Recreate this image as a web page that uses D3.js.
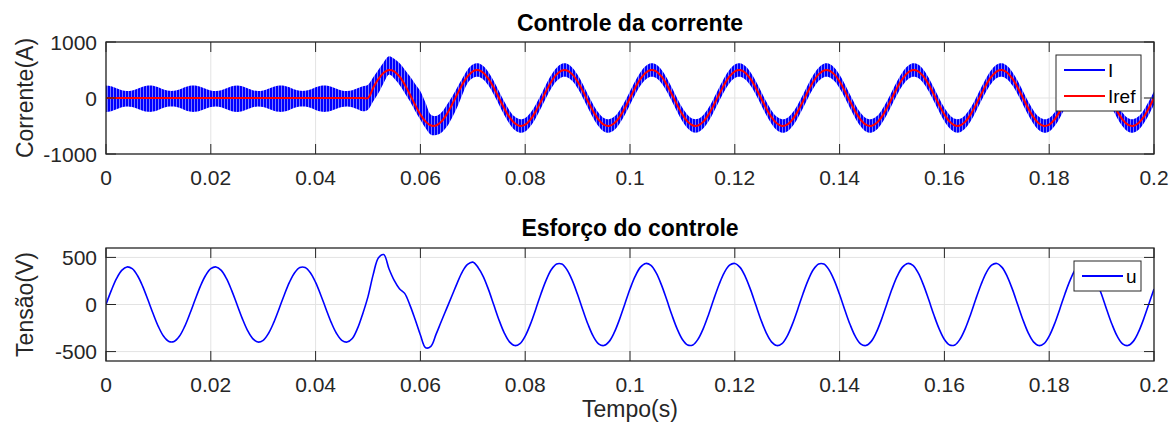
<!DOCTYPE html>
<html>
<head>
<meta charset="utf-8">
<script src="https://d3js.org/d3.v7.min.js"></script>
<style>
  body { margin: 0; background: #fff; }
  svg text { font-family: "Liberation Sans", Arial, sans-serif; fill: #262626; }
</style>
</head>
<body>
<div id="chart"></div>
<script>
// samples every 1 ms, t = 0 .. 0.2 s
let sampleStep = 0.001;

let timeTicks = [0, 0.02, 0.04, 0.06, 0.08, 0.1, 0.12, 0.14, 0.16, 0.18, 0.2];
let currentTicks = [-1000, 0, 1000];
let voltageTicks = [-500, 0, 500];

// current I : ripple band (upper / lower envelope)
let iUpper = [
  225,210,175,140,125,135,165,202,222,218,190,150,128,128,150,190,218,222,202,165,135,125,140,175,210,
  225,210,175,140,125,135,165,202,222,218,190,150,128,128,150,190,218,222,202,165,135,125,140,175,210,
  238,370,506,640,744,700,625,510,387,250,119,-90,-298,-320,-260,-130,20,185,350,
  505,596,619,572,462,304,120,-64,-222,-332,-379,-356,-265,-121,57,244,414,542,611,611,542,414,244,57,-121,-265,-356,-379,-332,-222,-64,
  120,304,462,572,619,596,505,361,183,-4,-174,-302,-371,-371,-302,-174,-4,183,361,505,596,619,572,462,304,
  120,-64,-222,-332,-379,-356,-265,-121,57,244,414,542,611,611,542,414,244,57,-121,-265,-356,-379,-332,-222,-64,
  120,304,462,572,619,596,505,361,183,-4,-174,-302,-371,-371,-302,-174,-4,183,361,505,596,619,572,462,304,
  120,-64,-222,-332,-379,-356,-265,-121,57,244,414,542,611,611,542,414,244,57,-121,-265,-356,-379,-332,-222,-64,
  120
];
let iLower = [
  -250,-235,-200,-165,-150,-160,-190,-227,-247,-243,-215,-175,-153,-153,-175,-215,-243,-247,-227,-190,-160,-150,-165,-200,-235,
  -250,-235,-200,-165,-150,-160,-190,-227,-247,-243,-215,-175,-153,-153,-175,-215,-243,-247,-227,-190,-160,-150,-165,-200,-235,
  -208,-60,89,270,417,350,238,90,-60,-230,-387,-540,-655,-660,-620,-520,-360,-170,60,
  265,356,379,332,222,64,-120,-304,-462,-572,-619,-596,-505,-361,-183,4,174,302,371,371,302,174,4,-183,-361,-505,-596,-619,-572,-462,-304,
  -120,64,222,332,379,356,265,121,-57,-244,-414,-542,-611,-611,-542,-414,-244,-57,121,265,356,379,332,222,64,
  -120,-304,-462,-572,-619,-596,-505,-361,-183,4,174,302,371,371,302,174,4,-183,-361,-505,-596,-619,-572,-462,-304,
  -120,64,222,332,379,356,265,121,-57,-244,-414,-542,-611,-611,-542,-414,-244,-57,121,265,356,379,332,222,64,
  -120,-304,-462,-572,-619,-596,-505,-361,-183,4,174,302,371,371,302,174,4,-183,-361,-505,-596,-619,-572,-462,-304,
  -120
];

// reference current Iref
let iRef = [
  0,0,0,0,0,0,0,0,0,0,0,0,0,0,0,0,0,0,0,0,0,0,0,0,0,
  0,0,0,0,0,0,0,0,0,0,0,0,0,0,0,0,0,0,0,0,0,0,0,0,0,
  0,184,342,452,499,476,385,241,63,-124,-294,-422,-491,-491,-422,-294,-124,63,241,385,476,499,452,342,184,
  0,-184,-342,-452,-499,-476,-385,-241,-63,124,294,422,491,491,422,294,124,-63,-241,-385,-476,-499,-452,-342,-184,
  0,184,342,452,499,476,385,241,63,-124,-294,-422,-491,-491,-422,-294,-124,63,241,385,476,499,452,342,184,
  0,-184,-342,-452,-499,-476,-385,-241,-63,124,294,422,491,491,422,294,124,-63,-241,-385,-476,-499,-452,-342,-184,
  0,184,342,452,499,476,385,241,63,-124,-294,-422,-491,-491,-422,-294,-124,63,241,385,476,499,452,342,184,
  0,-184,-342,-452,-499,-476,-385,-241,-63,124,294,422,491,491,422,294,124,-63,-241,-385,-476,-499,-452,-342,-184,
  0
];

// control effort u
let uCtrl = [
  0,147,274,362,399,380,308,193,50,-99,-235,-338,-393,-393,-338,-235,-99,50,193,308,380,399,362,274,147,
  0,-147,-274,-362,-399,-380,-308,-193,-50,99,235,338,393,393,338,235,99,-50,-193,-308,-380,-399,
  -362,-254,-97,84,320,497,530,380,256,168,118,-7,-160,-324,-460,-445,-315,-178,-44,90,225,347,425,
  450,394,297,158,-3,-164,-301,-397,-436,-415,-335,-208,-52,112,259,371,430,429,367,254,106,-58,-213,-339,-417,-436,-394,-297,-158,3,
  164,301,397,436,415,335,208,52,-112,-259,-371,-430,-429,-367,-254,-106,58,213,339,417,436,394,297,158,-3,
  -164,-301,-397,-436,-415,-335,-208,-52,112,259,371,430,429,367,254,106,-58,-213,-339,-417,-436,-394,-297,-158,3,
  164,301,397,436,415,335,208,52,-112,-259,-371,-430,-429,-367,-254,-106,58,213,339,417,436,394,297,158,-3,
  -164,-301,-397,-436,-415,-335,-208,-52,112,259,371,430,429,367,254,106,-58,-213,-339,-417,-436,-394,-297,-158,3,
  164
];

let dim = { width: 1175, height: 427 };
let topBox = { left: 106, right: 1154, top: 42, bottom: 154 };
let botBox = { left: 106, right: 1154, top: 248, bottom: 361 };

let tickFont = 21;
let labelFont = 23;
let axisColor = '#262626';
let gridColor = '#e3e3e3';

let svg = d3.select('#chart').append('svg')
    .attr('width', dim.width)
    .attr('height', dim.height);

let defs = svg.append('defs');

// fine vertical stripes to mimic the switching ripple of I
let pat = defs.append('pattern')
    .attr('id', 'ripple')
    .attr('width', 3)
    .attr('height', 20)
    .attr('patternUnits', 'userSpaceOnUse');
pat.append('rect').attr('width', 3).attr('height', 20).attr('fill', '#7a7aff');
pat.append('rect').attr('width', 2).attr('height', 20).attr('fill', '#0000ff');

let scaleX = d3.scaleLinear().domain([0, 0.2]).range([topBox.left, topBox.right]);
let scaleYI = d3.scaleLinear().domain([-1000, 1000]).range([topBox.bottom, topBox.top]);
let scaleYU = d3.scaleLinear().domain([-600, 600]).range([botBox.bottom, botBox.top]);

let tOf = (d, i) => scaleX(i * sampleStep);

function drawPanel(box, scaleY, yTicks, id) {
    let g = svg.append('g');

    defs.append('clipPath').attr('id', id)
        .append('rect')
        .attr('x', box.left).attr('y', box.top)
        .attr('width', box.right - box.left).attr('height', box.bottom - box.top);

    // grid
    g.selectAll('.gx').data(timeTicks).join('line')
        .attr('x1', d => scaleX(d)).attr('x2', d => scaleX(d))
        .attr('y1', box.top).attr('y2', box.bottom)
        .attr('stroke', gridColor).attr('stroke-width', 1);
    g.selectAll('.gy').data(yTicks).join('line')
        .attr('x1', box.left).attr('x2', box.right)
        .attr('y1', d => scaleY(d)).attr('y2', d => scaleY(d))
        .attr('stroke', gridColor).attr('stroke-width', 1);

    let data = svg.append('g').attr('clip-path', `url(#${id})`);

    let frame = svg.append('g');
    // inward ticks on all four sides
    let tl = 10;
    timeTicks.forEach(d => {
        frame.append('line').attr('x1', scaleX(d)).attr('x2', scaleX(d))
            .attr('y1', box.bottom).attr('y2', box.bottom - tl)
            .attr('stroke', axisColor).attr('stroke-width', 1);
        frame.append('line').attr('x1', scaleX(d)).attr('x2', scaleX(d))
            .attr('y1', box.top).attr('y2', box.top + tl)
            .attr('stroke', axisColor).attr('stroke-width', 1);
    });
    yTicks.forEach(d => {
        frame.append('line').attr('x1', box.left).attr('x2', box.left + tl)
            .attr('y1', scaleY(d)).attr('y2', scaleY(d))
            .attr('stroke', axisColor).attr('stroke-width', 1);
        frame.append('line').attr('x1', box.right).attr('x2', box.right - tl)
            .attr('y1', scaleY(d)).attr('y2', scaleY(d))
            .attr('stroke', axisColor).attr('stroke-width', 1);
    });
    frame.append('rect')
        .attr('x', box.left).attr('y', box.top)
        .attr('width', box.right - box.left).attr('height', box.bottom - box.top)
        .attr('fill', 'none').attr('stroke', axisColor).attr('stroke-width', 1.3);

    // tick labels
    frame.selectAll('.xl').data(timeTicks).join('text')
        .attr('x', d => scaleX(d))
        .attr('y', box.bottom + 31)
        .attr('text-anchor', 'middle')
        .attr('font-size', tickFont)
        .text(d => String(d));
    frame.selectAll('.yl').data(yTicks).join('text')
        .attr('x', box.left - 9)
        .attr('y', d => scaleY(d))
        .attr('dy', '0.36em')
        .attr('text-anchor', 'end')
        .attr('font-size', tickFont)
        .text(d => String(d));

    return { data: data, frame: frame };
}

let topPanel = drawPanel(topBox, scaleYI, currentTicks, 'clipTop');
let botPanel = drawPanel(botBox, scaleYU, voltageTicks, 'clipBot');

// --- top panel: I band and Iref
let band = d3.area()
    .x(tOf)
    .y0((d, i) => scaleYI(iLower[i]))
    .y1((d, i) => scaleYI(iUpper[i]))
    .curve(d3.curveCatmullRom);

topPanel.data.append('path')
    .datum(iUpper)
    .attr('d', band)
    .attr('fill', 'url(#ripple)');

topPanel.data.append('path')
    .datum(iRef)
    .attr('d', d3.line().x(tOf).y(d => scaleYI(d)).curve(d3.curveCatmullRom))
    .attr('fill', 'none')
    .attr('stroke', '#ff0000')
    .attr('stroke-width', 2);

// --- bottom panel: u
botPanel.data.append('path')
    .datum(uCtrl)
    .attr('d', d3.line().x(tOf).y(d => scaleYU(d)).curve(d3.curveCatmullRom))
    .attr('fill', 'none')
    .attr('stroke', '#0000ff')
    .attr('stroke-width', 1.6);

// titles & labels
let midX = (topBox.left + topBox.right) / 2;
svg.append('text').attr('x', midX).attr('y', topBox.top - 11)
    .attr('text-anchor', 'middle').attr('font-size', labelFont).attr('font-weight', 'bold')
    .style('fill', '#000').text('Controle da corrente');
svg.append('text').attr('x', midX).attr('y', botBox.top - 12)
    .attr('text-anchor', 'middle').attr('font-size', labelFont).attr('font-weight', 'bold')
    .style('fill', '#000').text('Esforço do controle');

svg.append('text')
    .attr('transform', `translate(33, ${(topBox.top + topBox.bottom) / 2}) rotate(-90)`)
    .attr('text-anchor', 'middle').attr('font-size', labelFont)
    .text('Corrente(A)');
svg.append('text')
    .attr('transform', `translate(33, ${(botBox.top + botBox.bottom) / 2}) rotate(-90)`)
    .attr('text-anchor', 'middle').attr('font-size', labelFont)
    .text('Tensão(V)');
svg.append('text').attr('x', midX).attr('y', 417)
    .attr('text-anchor', 'middle').attr('font-size', labelFont)
    .text('Tempo(s)');

// legends
function legend(x, y, w, entries) {
    let rowH = 26;
    let g = svg.append('g');
    g.append('rect').attr('x', x).attr('y', y)
        .attr('width', w).attr('height', entries.length * rowH + 4)
        .attr('fill', '#fff').attr('stroke', axisColor).attr('stroke-width', 1);
    entries.forEach((e, i) => {
        let cy = y + 15 + i * rowH;
        g.append('line').attr('x1', x + 8).attr('x2', x + 49)
            .attr('y1', cy).attr('y2', cy)
            .attr('stroke', e.color).attr('stroke-width', 2);
        g.append('text').attr('x', x + 52).attr('y', cy).attr('dy', '0.36em')
            .attr('font-size', 19).style('fill', '#000').text(e.name);
    });
}
legend(1056, 55, 85, [{ name: 'I', color: '#0000ff' }, { name: 'Iref', color: '#ff0000' }]);
legend(1074, 261, 67, [{ name: 'u', color: '#0000ff' }]);
</script>
</body>
</html>
